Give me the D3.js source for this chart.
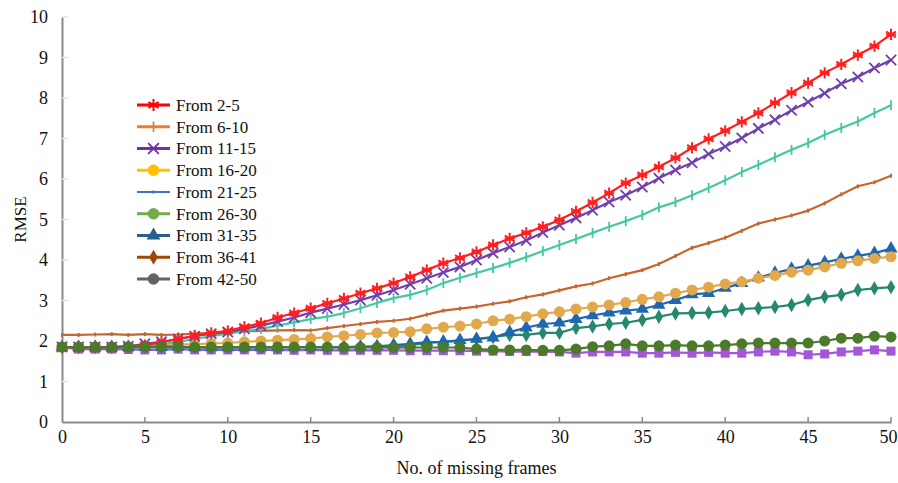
<!DOCTYPE html>
<html>
<head>
<meta charset="utf-8">
<script src="https://cdn.jsdelivr.net/npm/d3@7"></script>
<style>
  html, body { margin: 0; padding: 0; background: #fff; }
  svg { display: block; }
  text { font-family: "Liberation Serif", "Times New Roman", serif; fill: #111; }
</style>
</head>
<body>
<svg id="chart" width="898" height="483"></svg>
<script>
// ---------------- data ----------------
const frames = d3.range(0, 51);
const xTicks = [0, 5, 10, 15, 20, 25, 30, 35, 40, 45, 50];
const yTicks = [0, 1, 2, 3, 4, 5, 6, 7, 8, 9, 10];

const legendLabels = ["From 2-5", "From 6-10", "From 11-15", "From 16-20", "From 21-25",
                      "From 26-30", "From 31-35", "From 36-41", "From 42-50"];

const from2to5 = [1.85,1.85,1.85,1.85,1.87,1.9,1.97,2.05,2.13,2.2,2.25,2.35,2.44,2.58,2.69,2.81,2.93,3.05,3.18,3.3,
  3.43,3.58,3.75,3.92,4.05,4.2,4.37,4.53,4.67,4.82,4.99,5.2,5.42,5.65,5.9,6.1,6.3,6.52,6.77,6.99,
  7.19,7.41,7.63,7.88,8.13,8.37,8.62,8.83,9.06,9.28,9.57];
const from6to10 = [2.15,2.15,2.16,2.17,2.15,2.17,2.15,2.16,2.18,2.2,2.22,2.24,2.25,2.26,2.27,2.26,2.32,2.37,2.42,2.47,
  2.5,2.55,2.65,2.75,2.8,2.85,2.92,2.98,3.08,3.15,3.25,3.35,3.42,3.55,3.65,3.75,3.9,4.1,4.3,4.42,
  4.55,4.72,4.9,5.0,5.1,5.22,5.4,5.62,5.82,5.92,6.08];
const from11to15 = [1.85,1.85,1.85,1.85,1.87,1.93,1.98,2.05,2.12,2.18,2.22,2.3,2.38,2.48,2.58,2.7,2.8,2.9,3.01,3.13,
  3.26,3.4,3.55,3.69,3.83,4.0,4.17,4.32,4.48,4.68,4.86,5.04,5.23,5.43,5.6,5.8,6.02,6.22,6.4,6.62,
  6.8,7.01,7.25,7.46,7.7,7.9,8.12,8.35,8.52,8.74,8.94];
const from16to20 = [1.85,1.85,1.85,1.85,1.86,1.87,1.88,1.92,1.92,1.94,1.95,1.98,2.0,2.02,2.04,2.06,2.1,2.13,2.16,2.2,
  2.21,2.23,2.3,2.34,2.37,2.42,2.5,2.54,2.6,2.67,2.72,2.79,2.84,2.89,2.95,3.03,3.09,3.18,3.26,3.33,
  3.41,3.46,3.55,3.62,3.7,3.75,3.83,3.92,3.98,4.04,4.08];
const from21to25 = [1.85,1.85,1.85,1.85,1.86,1.88,1.92,1.98,2.05,2.12,2.18,2.24,2.3,2.38,2.46,2.54,2.6,2.69,2.81,2.94,
  3.06,3.14,3.26,3.43,3.56,3.68,3.8,3.93,4.07,4.22,4.37,4.52,4.67,4.82,4.96,5.11,5.3,5.43,5.6,5.78,
  5.97,6.17,6.35,6.54,6.72,6.89,7.09,7.26,7.42,7.63,7.82];
const from26to30 = [1.85,1.85,1.85,1.85,1.85,1.85,1.86,1.86,1.85,1.85,1.85,1.85,1.85,1.85,1.85,1.85,1.85,1.84,1.84,1.84,
  1.84,1.84,1.84,1.84,1.84,1.8,1.78,1.78,1.78,1.77,1.77,1.8,1.86,1.88,1.93,1.88,1.88,1.9,1.88,1.88,
  1.9,1.93,1.95,1.95,1.95,1.95,2.0,2.07,2.07,2.12,2.1];
const from31to35 = [1.85,1.85,1.85,1.85,1.85,1.85,1.85,1.85,1.84,1.84,1.84,1.84,1.84,1.84,1.85,1.85,1.85,1.85,1.86,1.87,
  1.9,1.93,1.97,1.98,2.02,2.05,2.08,2.22,2.33,2.42,2.45,2.54,2.63,2.7,2.75,2.79,2.89,3.01,3.15,3.18,
  3.31,3.43,3.56,3.68,3.78,3.86,3.94,4.03,4.1,4.17,4.28];
const from36to41 = [1.85,1.85,1.85,1.85,1.85,1.85,1.85,1.85,1.85,1.85,1.85,1.85,1.85,1.85,1.85,1.85,1.85,1.85,1.85,1.86,
  1.87,1.9,1.95,1.98,2.0,2.05,2.1,2.15,2.15,2.2,2.2,2.32,2.36,2.42,2.45,2.52,2.6,2.68,2.69,2.7,
  2.74,2.79,2.81,2.84,2.89,3.01,3.09,3.14,3.26,3.3,3.33];
const from42to50 = [1.85,1.8,1.8,1.8,1.79,1.78,1.78,1.8,1.78,1.78,1.78,1.78,1.78,1.78,1.77,1.78,1.77,1.77,1.77,1.77,
  1.77,1.76,1.76,1.76,1.76,1.75,1.75,1.74,1.74,1.74,1.73,1.7,1.73,1.73,1.73,1.7,1.7,1.72,1.7,1.72,
  1.7,1.7,1.73,1.75,1.73,1.66,1.68,1.73,1.75,1.78,1.75];

// colours actually used for the plotted lines, and the legend colours
const lineColors   = ["#ff1f1f", "#c8642e", "#6f3fae", "#e2a84c", "#46c7a3", "#4a7a2a", "#1f68ae", "#24876e", "#a455d8"];
const legendColors = ["#ff0000", "#ed7d31", "#7030a0", "#ffc000", "#4472c4", "#70ad47", "#255e91", "#9e480e", "#636363"];
const markerKinds  = ["asterisk", "tick", "x", "circle", "plus", "circle", "triangle", "diamond", "square"];
const legendMarkers = ["asterisk", "plus", "x", "circle", "dash", "circle", "triangle", "diamond", "circle"];

const seriesValues = [from2to5, from6to10, from11to15, from16to20, from21to25,
                      from26to30, from31to35, from36to41, from42to50];

// ---------------- chart ----------------
const svg = d3.select("#chart");
const x = d3.scaleLinear().domain([0, 50]).range([62, 891]);
const y = d3.scaleLinear().domain([0, 10]).range([422, 17]);

// y axis
const yAxis = svg.append("g").attr("transform", `translate(${x(0)},0)`)
  .call(d3.axisLeft(y).tickValues(yTicks).tickSize(0).tickPadding(14).tickFormat(d3.format("d")));
yAxis.select(".domain").attr("stroke", "#8a8a8a").attr("stroke-width", 2);
yAxis.selectAll("text").attr("font-size", 18).attr("font-family", "Liberation Serif").attr("fill", "#111");
// faint inner tick marks
svg.append("g").selectAll("line").data(yTicks.slice(1)).join("line")
  .attr("x1", x(0)).attr("x2", x(0) + 6)
  .attr("y1", d => y(d)).attr("y2", d => y(d))
  .attr("stroke", "#e4e4e4").attr("stroke-width", 1.5);

// x axis
const xAxis = svg.append("g").attr("transform", `translate(0,${y(0)})`)
  .call(d3.axisBottom(x).tickValues(xTicks).tickSize(0).tickPadding(8).tickFormat(d3.format("d")));
xAxis.select(".domain").attr("stroke", "#8a8a8a").attr("stroke-width", 2);
xAxis.selectAll("text").attr("font-size", 18).attr("font-family", "Liberation Serif").attr("fill", "#111")
  .attr("dx", d => d === 50 ? -3 : 0);
svg.append("g").selectAll("line").data(xTicks.slice(1)).join("line")
  .attr("x1", d => x(d)).attr("x2", d => x(d))
  .attr("y1", y(0)).attr("y2", y(0) - 5)
  .attr("stroke", "#8a8a8a").attr("stroke-width", 1.5);

// axis titles
svg.append("text").attr("transform", `translate(26,${(y(0) + y(10)) / 2}) rotate(-90)`)
  .attr("text-anchor", "middle").attr("font-size", 17).text("RMSE");
svg.append("text").attr("x", (x(0) + x(50)) / 2).attr("y", 474)
  .attr("text-anchor", "middle").attr("font-size", 18).text("No. of missing frames");

// marker drawing helper
function drawMarker(g, kind, color, scale) {
  const s = scale || 1;
  if (kind === "circle") {
    g.append("circle").attr("r", 5.5 * s).attr("fill", color);
  } else if (kind === "square") {
    g.append("rect").attr("x", -4.5 * s).attr("y", -4.5 * s).attr("width", 9 * s).attr("height", 9 * s).attr("fill", color);
  } else if (kind === "triangle") {
    g.append("path").attr("d", d3.symbol(d3.symbolTriangle, 75 * s * s)()).attr("fill", color);
  } else if (kind === "diamond") {
    g.append("path").attr("d", d3.symbol(d3.symbolDiamond, 60 * s * s)()).attr("fill", color);
  } else if (kind === "asterisk") {
    g.append("path").attr("d", d3.symbol(d3.symbolAsterisk, 90 * s * s)())
      .attr("fill", "none").attr("stroke", color).attr("stroke-width", 2);
    g.append("line").attr("x1", -5 * s).attr("x2", 5 * s).attr("stroke", color).attr("stroke-width", 2);
  } else if (kind === "x") {
    g.append("path").attr("d", d3.symbol(d3.symbolX, 70 * s * s)())
      .attr("fill", "none").attr("stroke", color).attr("stroke-width", 1.8);
  } else if (kind === "plus") {
    g.append("line").attr("y1", -5 * s).attr("y2", 5 * s).attr("stroke", color).attr("stroke-width", 1.8);
  } else if (kind === "tick") {
    g.append("line").attr("y1", -2).attr("y2", 2).attr("stroke", color).attr("stroke-width", 2);
  } else if (kind === "dash") {
    g.append("line").attr("y1", -1.5).attr("y2", 1.5).attr("stroke", color).attr("stroke-width", 2);
  }
}

const line = d3.line().x((d, i) => x(frames[i])).y(d => y(d));

// drawing order (bottom to top)
const drawOrder = [8, 7, 6, 3, 1, 4, 2, 0, 5];
const plot = svg.append("g");
drawOrder.forEach(si => {
  const vals = seriesValues[si];
  const g = plot.append("g");
  g.append("path").datum(vals).attr("d", line)
    .attr("fill", "none").attr("stroke", lineColors[si]).attr("stroke-width", 2.2)
    .attr("stroke-linejoin", "round");
  vals.forEach((v, i) => {
    const mg = g.append("g").attr("transform", `translate(${x(frames[i])},${y(v)})`);
    drawMarker(mg, markerKinds[si], lineColors[si], 1);
  });
});

// legend
const legend = svg.append("g");
const lx0 = 137, lx1 = 170, ly0 = 105, dy = 21.75;
legendLabels.forEach((lab, i) => {
  const yy = ly0 + i * dy;
  legend.append("line").attr("x1", lx0).attr("x2", lx1).attr("y1", yy).attr("y2", yy)
    .attr("stroke", legendColors[i]).attr("stroke-width", i === 4 ? 2 : 3);
  const mg = legend.append("g").attr("transform", `translate(${(lx0 + lx1) / 2},${yy})`);
  drawMarker(mg, legendMarkers[i], legendColors[i], 1.05);
  legend.append("text").attr("x", 176).attr("y", yy).attr("dy", "0.35em")
    .attr("font-size", 17).text(lab);
});
</script>
</body>
</html>
